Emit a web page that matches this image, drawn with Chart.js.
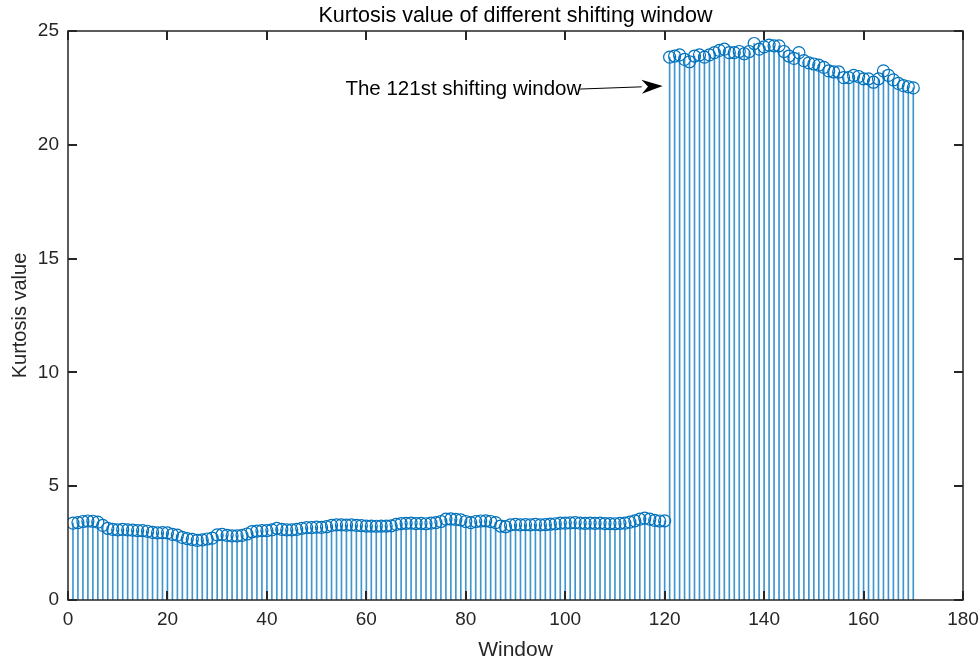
<!DOCTYPE html>
<html><head><meta charset="utf-8">
<script src="https://cdn.jsdelivr.net/npm/chart.js@4.4.0/dist/chart.umd.min.js"></script>
<style>html,body{margin:0;padding:0;background:#fff;}</style>
</head><body>
<canvas id="c" width="980" height="665"></canvas>
<script>
const windows = [1,2,3,4,5,6,7,8,9,10,11,12,13,14,15,16,17,18,19,20,21,22,23,24,25,26,27,28,29,30,31,32,33,34,35,36,37,38,39,40,41,42,43,44,45,46,47,48,49,50,51,52,53,54,55,56,57,58,59,60,61,62,63,64,65,66,67,68,69,70,71,72,73,74,75,76,77,78,79,80,81,82,83,84,85,86,87,88,89,90,91,92,93,94,95,96,97,98,99,100,101,102,103,104,105,106,107,108,109,110,111,112,113,114,115,116,117,118,119,120,121,122,123,124,125,126,127,128,129,130,131,132,133,134,135,136,137,138,139,140,141,142,143,144,145,146,147,148,149,150,151,152,153,154,155,156,157,158,159,160,161,162,163,164,165,166,167,168,169,170];
const kurtosis = [
3.38,3.40,3.45,3.47,3.46,3.42,3.28,3.15,3.10,3.08,
3.10,3.08,3.07,3.05,3.05,3.02,2.97,2.95,2.96,2.95,
2.88,2.85,2.75,2.70,2.66,2.62,2.64,2.68,2.72,2.86,
2.88,2.84,2.82,2.82,2.84,2.90,3.00,3.03,3.05,3.05,
3.08,3.15,3.10,3.08,3.08,3.10,3.15,3.18,3.18,3.20,
3.19,3.22,3.28,3.30,3.30,3.29,3.30,3.28,3.27,3.25,
3.25,3.24,3.25,3.25,3.26,3.32,3.36,3.37,3.38,3.36,
3.37,3.35,3.38,3.40,3.45,3.55,3.56,3.54,3.52,3.45,
3.40,3.45,3.47,3.48,3.45,3.40,3.25,3.22,3.30,3.32,
3.30,3.31,3.30,3.32,3.30,3.31,3.33,3.35,3.38,3.38,
3.39,3.40,3.38,3.37,3.38,3.37,3.38,3.36,3.36,3.35,
3.37,3.38,3.42,3.48,3.55,3.60,3.55,3.50,3.47,3.48,
23.85,23.90,23.95,23.75,23.65,23.90,23.95,23.85,23.95,24.05,
24.15,24.20,24.05,24.05,24.10,24.00,24.10,24.45,24.20,24.30,
24.38,24.35,24.35,24.10,23.90,23.80,24.05,23.70,23.60,23.55,
23.50,23.40,23.25,23.20,23.20,22.95,22.95,23.05,23.00,22.90,
22.90,22.75,22.90,23.25,23.05,22.85,22.70,22.60,22.55,22.50];
const xTicks = [0,20,40,60,80,100,120,140,160,180];
const yTicks = [0,5,10,15,20,25];
const chartTitle = 'Kurtosis value of different shifting window';
const xTitle = 'Window';
const yTitle = 'Kurtosis value';
const noteText = 'The 121st shifting window';
const noteAt = {x: 55.8, y: 22.45};
const arrowFrom = {x: 103, y: 22.45};
const arrowTo = {x: 119.6, y: 22.58};

const FONT = "'Liberation Sans', Arial, Helvetica, sans-serif";
const BLUE = 'rgb(0,114,189)';
const INK = '#262626';

const pts = windows.map((w,i)=>({x:w, y:kurtosis[i]}));

const deco = {
  id: 'deco',
  afterDatasetsDraw(chart){
    const {ctx, chartArea:a, scales:{x, y}} = chart;
    ctx.save();
    ctx.strokeStyle = INK;
    ctx.lineWidth = 1.5;
    ctx.strokeRect(a.left, a.top, a.right - a.left, a.bottom - a.top);
    ctx.beginPath();
    xTicks.forEach(v=>{
      const px = Math.round(x.getPixelForValue(v));
      ctx.moveTo(px, a.bottom); ctx.lineTo(px, a.bottom - 9);
      ctx.moveTo(px, a.top); ctx.lineTo(px, a.top + 9);
    });
    yTicks.forEach(v=>{
      const py = Math.round(y.getPixelForValue(v));
      ctx.moveTo(a.left, py); ctx.lineTo(a.left + 9, py);
      ctx.moveTo(a.right, py); ctx.lineTo(a.right - 9, py);
    });
    ctx.lineWidth = 2;
    ctx.stroke();
    // annotation
    ctx.fillStyle = '#000';
    ctx.font = '20.5px ' + FONT;
    ctx.textBaseline = 'middle';
    ctx.textAlign = 'left';
    ctx.fillText(noteText, x.getPixelForValue(noteAt.x), y.getPixelForValue(noteAt.y));
    const x1 = x.getPixelForValue(arrowFrom.x), y1 = y.getPixelForValue(arrowFrom.y);
    const x2 = x.getPixelForValue(arrowTo.x), y2 = y.getPixelForValue(arrowTo.y);
    const ang = Math.atan2(y2 - y1, x2 - x1);
    const hl = 21, hw = 7;
    ctx.strokeStyle = '#000';
    ctx.lineWidth = 1;
    ctx.beginPath();
    ctx.moveTo(x1, y1);
    ctx.lineTo(x2 - hl * Math.cos(ang), y2 - hl * Math.sin(ang));
    ctx.stroke();
    ctx.beginPath();
    ctx.moveTo(x2, y2);
    ctx.lineTo(x2 - hl*Math.cos(ang) - hw*Math.sin(ang), y2 - hl*Math.sin(ang) + hw*Math.cos(ang));
    ctx.lineTo(x2 - 0.7*hl*Math.cos(ang), y2 - 0.7*hl*Math.sin(ang));
    ctx.lineTo(x2 - hl*Math.cos(ang) + hw*Math.sin(ang), y2 - hl*Math.sin(ang) - hw*Math.cos(ang));
    ctx.closePath();
    ctx.fill();
    ctx.restore();
  }
};

new Chart(document.getElementById('c'), {
  type: 'bar',
  data: {
    datasets: [
      {
        type: 'scatter',
        data: pts,
        showLine: false,
        pointStyle: 'circle',
        pointRadius: 6,
        pointBorderWidth: 1.2,
        borderColor: BLUE,
        backgroundColor: 'rgba(0,0,0,0)',
        pointBackgroundColor: 'rgba(0,0,0,0)',
        order: 1
      },
      {
        type: 'bar',
        data: pts,
        backgroundColor: 'rgba(0,114,189,0.75)',
        borderWidth: 0,
        barThickness: 1,
        grouped: false,
        order: 2
      }
    ]
  },
  options: {
    responsive: false,
    devicePixelRatio: 1,
    animation: false,
    layout: {padding: {left: 0, right: 17, top: 0, bottom: 0}},
    plugins: {
      legend: {display: false},
      tooltip: {enabled: false},
      title: {
        display: true,
        fullSize: false,
        text: chartTitle,
        color: '#000',
        font: {family: FONT, size: 21.5, weight: 'normal', lineHeight: 1.2},
        padding: {top: 3, bottom: 2.2}
      }
    },
    scales: {
      x: {
        type: 'linear',
        min: 0, max: 180,
        offset: false,
        grid: {display: false, drawTicks: false},
        border: {display: false},
        afterBuildTicks: s => { s.ticks = xTicks.map(v=>({value: v})); },
        afterFit: s => { s.height = 65; s.paddingRight = 0; s.paddingLeft = 0; },
        ticks: {color: INK, font: {family: FONT, size: 19}, padding: 8, maxRotation: 0, autoSkip: false},
        title: {display: true, text: xTitle, color: INK, font: {family: FONT, size: 21}, padding: {top: 0, bottom: 2}}
      },
      y: {
        min: 0, max: 25,
        grid: {display: false, drawTicks: false},
        border: {display: false},
        afterBuildTicks: s => { s.ticks = yTicks.map(v=>({value: v})); },
        afterFit: s => { s.width = 68; },
        ticks: {color: INK, font: {family: FONT, size: 19}, padding: 9},
        title: {display: true, text: yTitle, color: INK, font: {family: FONT, size: 20}, padding: {top: 8, bottom: 0}}
      }
    }
  },
  plugins: [deco]
});
</script>
</body></html>
